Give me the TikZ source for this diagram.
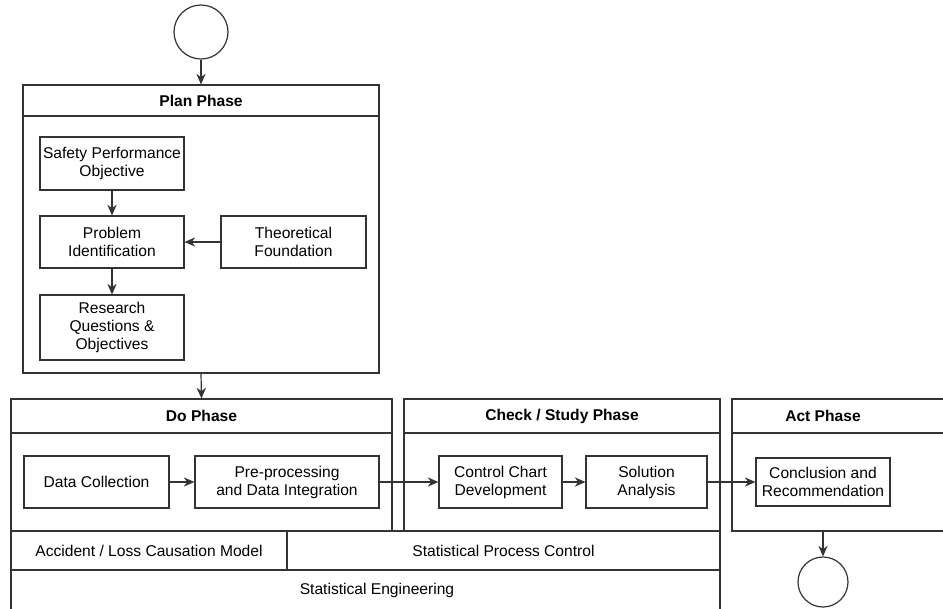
\documentclass[tikz,border=0pt]{standalone}
\usepackage{fontspec}
\setmainfont{Liberation Sans}
\usetikzlibrary{fit,arrows.meta}
\begin{document}
\begin{tikzpicture}[x=0.75pt,y=-0.75pt,
  every node/.style={font=\fontsize{11.7}{13.5}\selectfont},
  line/.style={draw=black!80,line width=0.9pt},
  box/.style={line,inner sep=0pt,align=center},
  sz/.style 2 args={minimum width=#1*0.75pt,minimum height=#2*0.75pt},
  frame/.style={line,inner sep=0pt},
  ttl/.style={font=\fontsize{11.7}{13.5}\selectfont\bfseries,inner sep=0pt},
  arr/.style={line,-{Stealth[length=8pt,width=7pt]}},
  term/.style={circle,line,inner sep=0pt}]
\useasboundingbox (0,0) rectangle (943,608);
\clip (0,0) rectangle (943,608);

% start / end
\node[term,minimum size=40.5pt] (startc) at (201,32) {};
\node[term,minimum size=37.5pt] (endc) at (823,582) {};

% Plan phase
\node[frame,fit={(23,85) (379,373)}] (plan) {};
\draw[line] (plan.west |- 0,116) -- (plan.east |- 0,116);
\node[ttl] (plant) at (201,100.5) {Plan Phase};
\node[box,sz={144}{53}] (spo) at (112,163.5) {Safety Performance\\Objective};
\node[box,sz={144}{52}] (pid) at (112,242) {Problem\\Identification};
\node[box,sz={145}{52}] (theo) at (293.5,242) {Theoretical\\Foundation};
\node[box,sz={144}{65}] (rq) at (112,327.5) {Research\\Questions \&\\Objectives};

% Do phase
\node[frame,fit={(11,399) (392,531)}] (do) {};
\draw[line] (do.west |- 0,433) -- (do.east |- 0,433);
\node[ttl] (dot) at (201.5,416) {Do Phase};
\node[box,sz={145}{52}] (dc) at (96.5,482) {Data Collection};
\node[box,sz={184}{52}] (pp) at (287,482) {Pre-processing\\and Data Integration};

% Check phase
\node[frame,fit={(404,399) (720,531)}] (check) {};
\draw[line] (check.west |- 0,433) -- (check.east |- 0,433);
\node[ttl] (checkt) at (562,416) {Check / Study Phase};
\node[box,sz={123}{52}] (cc) at (500.5,482) {Control Chart\\Development};
\node[box,sz={121}{52}] (sa) at (646.5,482) {Solution\\Analysis};

% Act phase
\node[frame,fit={(732,399) (960,531)}] (act) {};
\draw[line] (act.west |- 0,433) -- (act.east |- 0,433);
\node[ttl] (actt) at (823,416) {Act Phase};
\node[box,sz={134}{48}] (cr) at (823,482) {Conclusion and\\Recommendation};

% bottom rows
\node[box,sz={276}{39}] (acc) at (149,550.5) {Accident / Loss Causation Model};
\node[box,sz={433}{39}] (spc) at (503.5,550.5) {Statistical Process Control};
\node[frame,fit={(11,570) (720,612)}] (se) {};
\node (set) at (377,590) {Statistical Engineering};

% connectors
\draw[arr] (startc) -- (plan.north);
\draw[arr] (plan.south) -- (do.north);
\draw[arr] (spo) -- (pid);
\draw[arr] (pid) -- (rq);
\draw[arr] (theo) -- (pid);
\draw[arr] (dc) -- (pp);
\draw[arr] (pp.east) -- (cc.west);
\draw[arr] (cc) -- (sa);
\draw[arr] (sa.east) -- (cr.west);
\draw[arr] (endc |- act.south) -- (endc.north);
\end{tikzpicture}
\end{document}
